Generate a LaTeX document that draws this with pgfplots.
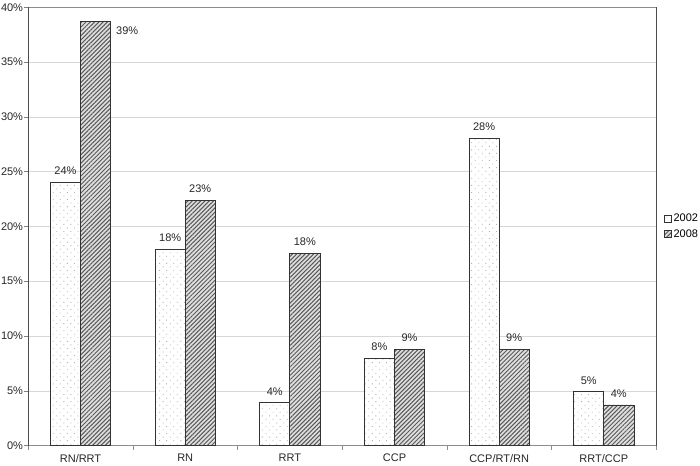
\documentclass[border=0pt]{standalone}
\usepackage{fontspec}
\setmainfont{Liberation Sans}
\usepackage{pgfplots}
\pgfplotsset{compat=1.18}
\usetikzlibrary{patterns.meta}
\definecolor{gridgray}{RGB}{215,215,215}
\definecolor{framegray}{RGB}{140,140,140}

\begin{document}
\begin{tikzpicture}
  \begin{axis}[
    scale only axis,
    width=626bp, height=437bp,
    ybar, bar width=30bp,
    xmin=-0.5, xmax=5.5,
    ymin=0, ymax=40,
    xtick={0,...,5},
    xticklabels={RN/RRT,RN,RRT,CCP,CCP/RT/RN,RRT/CCP},
    major x tick style={draw=none},
    minor xtick={-0.5,0.5,...,5.5},
    minor x tick style={draw=framegray},
    minor tick length=4bp,
    ytick={0,5,...,40},
    yticklabel={\pgfmathprintnumber{\tick}\%},
    /pgf/number format/assume math mode=true,
    tick align=outside,
    major tick length=4bp,
    ytick pos=left, xtick pos=bottom,
    ymajorgrids, grid style={gridgray},
    axis line style={framegray},
    separate axis lines,
    y axis line style={black!70},
    tick label style={font=\fontsize{11}{13}\selectfont, text=black!85},
    yticklabel style={inner xsep=1bp},
    xticklabel style={yshift=-1bp},
    point meta=explicit symbolic,
    nodes near coords,
    every node near coord/.append style={font=\fontsize{11}{13}\selectfont, text=black!85, yshift=4bp},
    legend style={at={(1.012,0.5)}, anchor=west, draw=none, fill=none,
                  font=\fontsize{11}{13}\selectfont, row sep=2bp,
                  legend cell align=left, inner sep=0pt},
    legend image code/.code={\draw[#1] (0bp,-3.5bp) rectangle (7bp,3.5bp);},
  ]
    \addplot[draw=black!80, line width=0.7bp, bar shift=-15bp,
             fill=white, postaction={pattern={Dots[radius=0.6bp, distance=5bp, angle=45]}, pattern color=gray!60}]
      coordinates {
        (0,24.0) [24\%] (1,17.9) [18\%] (2,3.9) [4\%]
        (3,8.0) [8\%] (4,28.0) [28\%] (5,4.9) [5\%]
      };
    \addplot[draw=black!80, line width=0.7bp, bar shift=15bp,
             fill=gray!25, postaction={pattern={Lines[angle=45, distance=3bp, line width=1bp]}, pattern color=black!65}]
      coordinates {
        (0,38.7) [] (1,22.4) [23\%] (2,17.5) [18\%]
        (3,8.8) [9\%] (4,8.8) [9\%] (5,3.7) [4\%]
      };
    \node[anchor=north west, font=\fontsize{11}{13}\selectfont, text=black!85]
      at (axis cs:0,38.7) [xshift=32bp, yshift=-2bp] {39\%};
    \legend{2002,2008}
  \end{axis}
\end{tikzpicture}
\end{document}
